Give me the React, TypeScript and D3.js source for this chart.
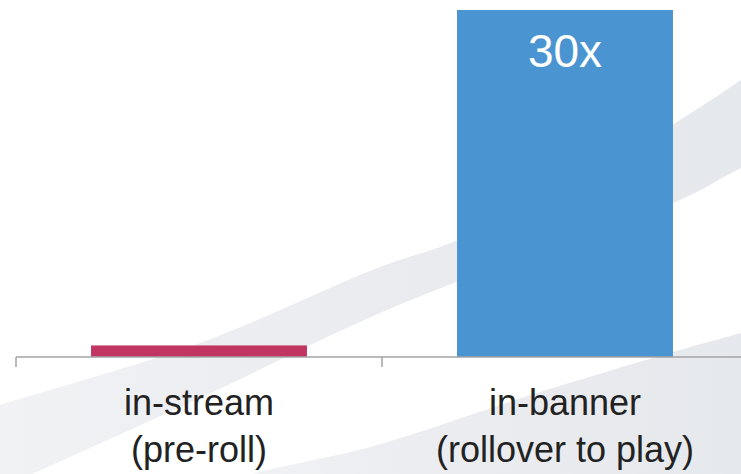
import React, { useEffect, useRef } from "react";
import * as d3 from "d3";

const categories = ["in-stream", "in-banner"];
const categoryLines = [["in-stream", "(pre-roll)"], ["in-banner", "(rollover to play)"]];
const values = [1, 30];
const barLabels = ["", "30x"];
const barColors = ["#c13562", "#4a95d1"];

// decorative background swooshes
const upperSwooshTop: [number, number][] = [[-30, 415], [0, 405], [200, 343], [380, 267], [458, 240], [600, 168], [680, 120], [741, 80], [780, 52]];
const upperSwooshBottom: [number, number][] = [[780, 150], [741, 168], [680, 200], [520, 258], [380, 313], [200, 398], [0, 488], [-30, 500]];
const lowerSwooshTop: [number, number][] = [[200, 490], [260, 472], [370, 447], [537, 393], [680, 350], [741, 333], [780, 322]];

const W = 741;
const H = 474;

export default function App() {
  const ref = useRef<SVGSVGElement>(null);
  useEffect(() => {
    const svg = d3.select(ref.current);
    svg.selectAll("*").remove();

    const defs = svg.append("defs");
    const g1 = defs.append("linearGradient").attr("id", "sw1").attr("x1", "0").attr("x2", "1").attr("y1", "0").attr("y2", "0");
    g1.append("stop").attr("offset", "0").attr("stop-color", "#e6e8ec").attr("stop-opacity", 0.55);
    g1.append("stop").attr("offset", "0.5").attr("stop-color", "#e6e8ec").attr("stop-opacity", 0.85);
    g1.append("stop").attr("offset", "1").attr("stop-color", "#e5e8ec").attr("stop-opacity", 1);

    const curve = d3.line().curve(d3.curveCatmullRom);
    const upperPath = curve(upperSwooshTop)! + "L" + curve(upperSwooshBottom)!.slice(1) + "Z";
    svg.append("path").attr("d", upperPath).attr("fill", "url(#sw1)");
    const lowerPath = curve(lowerSwooshTop)! + "L780,500L200,500Z";
    svg.append("path").attr("d", lowerPath).attr("fill", "url(#sw1)");

    const x = d3.scaleBand<string>().domain(categories).range([16, 748]).paddingInner(0.41).paddingOuter(0.205);
    const y = d3.scaleLinear().domain([0, 30]).range([357, 10]);

    svg.append("g").selectAll("rect").data(values).join("rect")
      .attr("x", (_, i) => x(categories[i])!)
      .attr("width", x.bandwidth())
      .attr("y", (d) => y(d))
      .attr("height", (d) => y(0) - y(d))
      .attr("fill", (_, i) => barColors[i]);

    svg.append("g").selectAll("text").data(values).join("text")
      .attr("x", (_, i) => x(categories[i])! + x.bandwidth() / 2)
      .attr("y", (d) => y(d) + 57)
      .attr("text-anchor", "middle")
      .attr("fill", "#ffffff")
      .attr("font-family", "Liberation Sans, Arial, sans-serif")
      .attr("font-size", 46)
      .text((_, i) => barLabels[i]);

    // axis
    const ax = svg.append("g");
    const step = x.step();
    ax.append("line").attr("x1", 16).attr("x2", W).attr("y1", 357).attr("y2", 357)
      .attr("stroke", "#a3a3a3").attr("stroke-width", 1.5);
    const ticks = d3.range(categories.length + 1).map((i) => 16 + i * step);
    ax.selectAll("line.tick").data(ticks).join("line").attr("class", "tick")
      .attr("x1", (d) => d).attr("x2", (d) => d).attr("y1", 357).attr("y2", 367)
      .attr("stroke", "#a3a3a3").attr("stroke-width", 1.5);

    const lab = svg.append("g");
    categoryLines.forEach((lines, i) => {
      const cx = x(categories[i])! + x.bandwidth() / 2;
      lines.forEach((t, j) => {
        lab.append("text").attr("x", cx).attr("y", 415 + j * 47)
          .attr("text-anchor", "middle")
          .attr("fill", "#222222")
          .attr("font-family", "Liberation Sans, Arial, sans-serif")
          .attr("font-size", 36)
          .text(t);
      });
    });
  }, []);
  return (
    <svg ref={ref} width={W} height={H} style={{ position: "absolute", left: 0, top: 0, background: "#ffffff" }} />
  );
}
